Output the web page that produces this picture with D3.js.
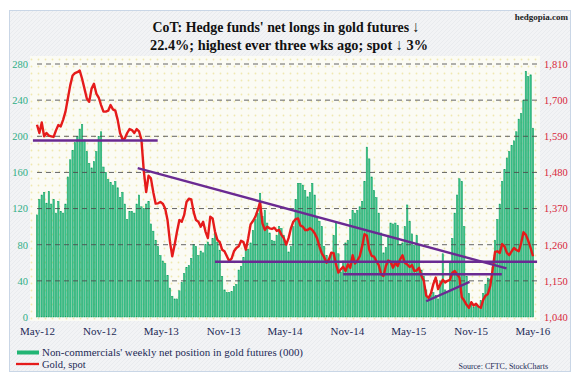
<!doctype html>
<html>
  <head>
    <meta charset="utf8">
    <script src="https://d3js.org/d3.v7.min.js"></script>
    <style type="text/css">
      body { margin: 0; background: #fff; }
      svg { display: block; font-family: 'Liberation Serif', 'Times New Roman', serif; }
    </style>
  </head>
  <body>
    <script type="text/javascript">
      const w = 579;
      const h = 374;

      // weekly CoT dates, first report week of May 2012
      const startDate = new Date(2012, 4, 1);
      const endDate = new Date(2016, 4, 3);

      // non-commercials' net longs (000 contracts), one per week
      const netLongs = [
        113, 130, 135, 138, 126, 139, 125, 130, 115, 128,
        117, 115, 125, 155, 174, 184, 193, 200, 208, 213,
        196, 183, 170, 165, 172, 183, 200, 205, 166, 160,
        152, 149, 146, 150, 143, 132, 138, 125, 108, 117,
        117, 115, 125, 135, 122, 120, 125, 128, 103, 95,
        85, 78, 68, 62, 59, 46, 32, 23, 20, 20,
        29, 38, 48, 55, 57, 65, 80, 78, 68, 73,
        71, 80, 83, 79, 87, 93, 83, 74, 45, 30,
        27, 27, 28, 34, 36, 52, 56, 66, 77, 75,
        82, 96, 108, 115, 137, 111, 118, 104, 93, 85,
        84, 90, 100, 98, 90, 80, 72, 78, 100, 130,
        148, 148, 146, 140, 133, 138, 148, 135, 111, 106,
        100, 78, 68, 63, 70, 90, 104, 70, 50, 62,
        82, 85, 108, 118, 115, 118, 122, 128, 150, 188,
        175, 155, 140, 132, 115, 93, 71, 77, 90, 104,
        103, 104, 101, 80, 82, 100, 124, 106, 92, 79,
        90, 80, 52, 45, 30, 23, 24, 27, 24, 20,
        40, 70, 30, 28, 60, 87, 115, 135, 153, 150,
        100, 45, 26, 16, 11, 15, 12, 18, 26, 36,
        43, 42, 55, 85, 108, 125, 150, 163, 176, 183,
        190, 195, 205, 219, 225, 240, 272, 266, 268, 209
      ];

      // gold spot ($/oz), read at the same weeks
      const goldSpot = [
        1625, 1600, 1632, 1590, 1600, 1592, 1590, 1588, 1608, 1624,
        1620, 1640, 1665, 1705, 1745, 1775, 1782, 1785, 1790, 1765,
        1735, 1705, 1695, 1735, 1750, 1720, 1708, 1685, 1665, 1665,
        1668, 1685, 1672, 1668, 1640, 1600, 1581, 1583, 1600, 1612,
        1609, 1600, 1612, 1605, 1580, 1485, 1420, 1470, 1462, 1420,
        1385, 1386, 1390, 1385, 1370, 1335, 1270, 1225, 1260, 1300,
        1335, 1330, 1350, 1390, 1400, 1398, 1360, 1335, 1330, 1315,
        1330, 1300, 1280, 1345, 1340, 1300, 1275, 1268, 1245, 1240,
        1225, 1210, 1218, 1240, 1250, 1255, 1272, 1268, 1245, 1280,
        1322, 1332, 1345, 1365, 1390, 1325, 1305, 1315, 1310, 1308,
        1312, 1302, 1305, 1290, 1280, 1260, 1280, 1310, 1330, 1338,
        1340, 1318, 1315, 1305, 1305, 1310, 1305, 1295, 1280, 1255,
        1234, 1222, 1205, 1215, 1236, 1234, 1200, 1175, 1185, 1193,
        1180, 1200, 1190, 1228, 1203, 1212, 1225, 1255, 1292, 1287,
        1245, 1226, 1224, 1210, 1198, 1170, 1165, 1195, 1212, 1208,
        1190, 1205, 1195, 1215, 1228, 1205, 1200, 1192, 1198, 1180,
        1182, 1190, 1165, 1150, 1105, 1098, 1112, 1140, 1160, 1125,
        1140, 1153, 1145, 1150, 1153, 1175, 1180, 1170, 1160, 1100,
        1090, 1077, 1068, 1085, 1075, 1080, 1072, 1068, 1092, 1105,
        1110, 1135, 1185, 1238, 1240, 1235, 1262, 1255, 1235, 1228,
        1240, 1250, 1244, 1240, 1265, 1298, 1290, 1272, 1250, 1225
      ];

      const leftTicks = [0, 40, 80, 120, 160, 200, 240, 280];
      const rightTicks = [1040, 1150, 1260, 1370, 1480, 1590, 1700, 1810];
      const xTickDates = ['2012-05-01', '2012-11-01', '2013-05-01', '2013-11-01', '2014-05-01',
                          '2014-11-01', '2015-05-01', '2015-11-01', '2016-05-01'];
      const xTickLabels = ['May-12', 'Nov-12', 'May-13', 'Nov-13', 'May-14',
                           'Nov-14', 'May-15', 'Nov-15', 'May-16'];

      // hand-drawn trend lines, in gold-price units
      const trendLines = [
        [['2012-04-19', 1577], ['2013-04-22', 1577]],
        [['2013-02-22', 1493], ['2016-02-15', 1188]],
        [['2013-10-08', 1208], ['2016-05-15', 1208]],
        [['2014-10-21', 1170], ['2016-02-01', 1170]],
        [['2015-06-23', 1088], ['2015-10-29', 1147]]
      ];

      const parse = d3.timeParse('%Y-%m-%d');
      const weeks = netLongs.map((d, i) => d3.timeDay.offset(startDate, 7 * i));

      const xScale = d3.scaleTime()
        .domain([startDate, endDate])
        .range([37, 533]);
      const yLeft = d3.scaleLinear()
        .domain([0, 280])
        .range([317, 64]);
      const yRight = d3.scaleLinear()
        .domain([1040, 1810])
        .range([317, 64]);

      const svg = d3.select('body')
        .append('svg')
        .attr('width', w)
        .attr('height', h);

      const defs = svg.append('defs');
      const bgPat = defs.append('pattern')
        .attr('id', 'bg').attr('width', 4).attr('height', 4)
        .attr('patternUnits', 'userSpaceOnUse');
      bgPat.append('rect').attr('width', 4).attr('height', 4).attr('fill', '#f2f3f5');
      bgPat.append('path').attr('d', 'M0,4 L4,0').attr('stroke', '#e7e9ec').attr('stroke-width', 0.8);

      const dotPat = defs.append('pattern')
        .attr('id', 'dots').attr('width', 7).attr('height', 7)
        .attr('patternUnits', 'userSpaceOnUse');
      dotPat.append('rect').attr('width', 7).attr('height', 7).attr('fill', '#fbfbf4');
      dotPat.append('circle').attr('cx', 3.5).attr('cy', 3.5).attr('r', 0.9).attr('fill', '#efe8b0');

      // frame and plot background
      svg.append('rect')
        .attr('x', 9.5).attr('y', 10.5).attr('width', 561).attr('height', 361)
        .attr('fill', 'url(#bg)').attr('stroke', '#c9d6e6');
      svg.append('rect')
        .attr('x', 30).attr('y', 56).attr('width', 510).attr('height', 265)
        .attr('fill', 'url(#dots)');

      // title
      svg.append('text')
        .attr('x', 286).attr('y', 32)
        .attr('text-anchor', 'middle')
        .attr('font-size', '15.5px').attr('font-weight', 'bold').attr('fill', '#111')
        .attr('textLength', 267).attr('lengthAdjust', 'spacingAndGlyphs')
        .text('CoT: Hedge funds\' net longs in gold futures \u2193');
      svg.append('text')
        .attr('x', 289).attr('y', 50)
        .attr('text-anchor', 'middle')
        .attr('font-size', '15.5px').attr('font-weight', 'bold').attr('fill', '#111')
        .attr('textLength', 278).attr('lengthAdjust', 'spacingAndGlyphs')
        .text('22.4%; highest ever three wks ago; spot \u2193 3%');
      svg.append('text')
        .attr('x', 568).attr('y', 20)
        .attr('text-anchor', 'end')
        .attr('font-size', '9px').attr('font-weight', 'bold').attr('fill', '#222')
        .text('hedgopia.com');

      // bars
      const barW = 1.4;
      svg.append('g')
        .selectAll('rect')
        .data(netLongs)
        .enter()
        .append('rect')
        .attr('x', (d, i) => xScale(weeks[i]) - barW / 2)
        .attr('y', (d) => yLeft(d))
        .attr('width', barW)
        .attr('height', (d) => yLeft(0) - yLeft(d))
        .attr('fill', '#3cc48e')
        .attr('stroke', '#10a060')
        .attr('stroke-width', 0.5);

      // dashed gridlines, drawn over the bars
      svg.append('g')
        .selectAll('line')
        .data(leftTicks.filter((d) => d > 0))
        .enter()
        .append('line')
        .attr('x1', 37).attr('x2', 537)
        .attr('y1', (d) => yLeft(d)).attr('y2', (d) => yLeft(d))
        .attr('stroke', '#4a4a4a').attr('stroke-width', 1)
        .attr('stroke-opacity', 0.85)
        .attr('stroke-dasharray', '5,4');

      // gold line
      const line = d3.line()
        .x((d, i) => xScale(weeks[i]))
        .y((d) => yRight(d));
      svg.append('path')
        .datum(goldSpot)
        .attr('d', line)
        .attr('fill', 'none')
        .attr('stroke', '#e51b1b')
        .attr('stroke-width', 2.4)
        .attr('stroke-linejoin', 'round');

      // trend lines
      svg.append('g')
        .selectAll('line')
        .data(trendLines)
        .enter()
        .append('line')
        .attr('x1', (d) => xScale(parse(d[0][0])))
        .attr('y1', (d) => yRight(d[0][1]))
        .attr('x2', (d) => xScale(parse(d[1][0])))
        .attr('y2', (d) => yRight(d[1][1]))
        .attr('stroke', '#6a2a92')
        .attr('stroke-width', 2.4);

      // axes
      const leftAxis = svg.append('g')
        .attr('transform', 'translate(30,0)')
        .call(d3.axisLeft(yLeft).tickValues(leftTicks).tickSize(0).tickPadding(2));
      leftAxis.select('.domain').remove();
      leftAxis.selectAll('text')
        .attr('font-family', 'Liberation Serif, serif')
        .attr('font-size', '10.5px')
        .attr('fill', '#2fae86');

      const rightAxis = svg.append('g')
        .attr('transform', 'translate(542,0)')
        .call(d3.axisRight(yRight).tickValues(rightTicks).tickSize(0).tickPadding(2).tickFormat(d3.format(',')));
      rightAxis.select('.domain').remove();
      rightAxis.selectAll('text')
        .attr('font-family', 'Liberation Serif, serif')
        .attr('font-size', '10.5px')
        .attr('fill', '#d8263a');

      const xAxis = svg.append('g')
        .attr('transform', 'translate(0,322)')
        .call(d3.axisBottom(xScale)
          .tickValues(xTickDates.map(parse))
          .tickSize(0).tickPadding(5)
          .tickFormat((d, i) => xTickLabels[i]));
      xAxis.select('.domain').remove();
      xAxis.selectAll('text')
        .attr('font-family', 'Liberation Serif, serif')
        .attr('font-size', '11px')
        .attr('fill', '#1d2a55');

      // legend
      svg.append('rect')
        .attr('x', 17).attr('y', 350.5).attr('width', 22).attr('height', 4)
        .attr('fill', '#22b574');
      svg.append('text')
        .attr('x', 42).attr('y', 356)
        .attr('font-size', '10.5px').attr('fill', '#1d2a55')
        .attr('textLength', 261).attr('lengthAdjust', 'spacingAndGlyphs')
        .text('Non-commercials\' weekly net position in gold futures (000)');
      svg.append('line')
        .attr('x1', 16).attr('x2', 39).attr('y1', 364).attr('y2', 364)
        .attr('stroke', '#e51b1b').attr('stroke-width', 2.3);
      svg.append('text')
        .attr('x', 42).attr('y', 368)
        .attr('font-size', '10.5px').attr('fill', '#1d2a55')
        .text('Gold, spot');
      svg.append('text')
        .attr('x', 548).attr('y', 369)
        .attr('text-anchor', 'end')
        .attr('font-size', '8px').attr('fill', '#1d2a55')
        .text('Source: CFTC, StockCharts');
    </script>
  </body>
</html>
